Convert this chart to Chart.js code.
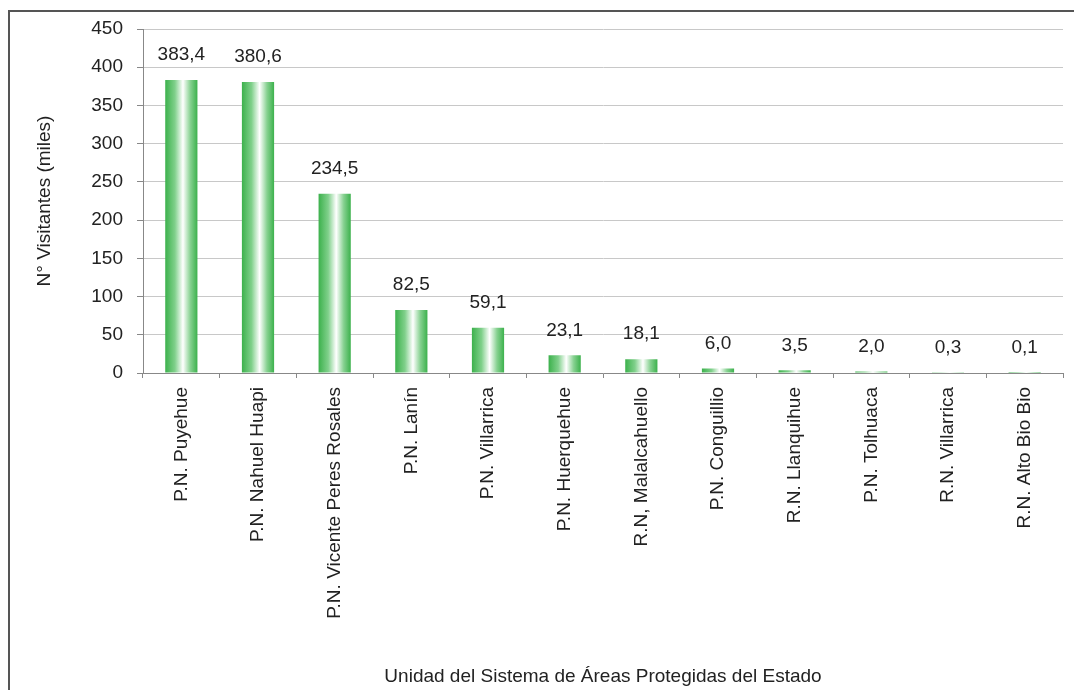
<!DOCTYPE html>
<html>
<head>
<meta charset="utf-8">
<script src="https://cdn.jsdelivr.net/npm/chart.js@4/dist/chart.umd.min.js"></script>
<style>
  body { margin: 0; background: #fff; }
  #frame { position: absolute; left: 8px; top: 10px; width: 1100px; height: 720px; border: 2px solid #555; box-sizing: border-box; }
  #myChart { position: absolute; left: 0; top: 0; }
</style>
</head>
<body>
<div id="frame"></div>
<canvas id="myChart" width="1074" height="690"></canvas>
<script>
const categories = [
  'P.N. Puyehue', 'P.N. Nahuel Huapi', 'P.N. Vicente Peres Rosales', 'P.N. Lanín',
  'P.N. Villarrica', 'P.N. Huerquehue', 'R.N, Malalcahuello', 'P.N. Conguillio',
  'R.N. Llanquihue', 'P.N. Tolhuaca', 'R.N. Villarrica', 'R.N. Alto Bio Bio'
]
const visitors = [383.4, 380.6, 234.5, 82.5, 59.1, 23.1, 18.1, 6.0, 3.5, 2.0, 0.3, 0.1]
const yTicks = [0, 50, 100, 150, 200, 250, 300, 350, 400, 450]

const FONT = "'Liberation Sans', Arial, sans-serif"
const FS = 19
const BAR_PCT = 0.42

// horizontal green -> white -> green shading on each bar
function barFill(ctx) {
  const chart = ctx.chart
  const x = chart.scales.x
  if (!chart.chartArea || !x) return '#3fb34f'
  const cx = x.getPixelForValue(ctx.dataIndex)
  const hw = x.width / categories.length * BAR_PCT / 2
  const g = chart.ctx.createLinearGradient(cx - hw, 0, cx + hw, 0)
  g.addColorStop(0, '#3cb14c')
  g.addColorStop(0.3, '#80d08b')
  g.addColorStop(0.55, '#ffffff')
  g.addColorStop(0.78, '#86d190')
  g.addColorStop(1, '#3cb14c')
  return g
}

const valueLabels = {
  id: 'valueLabels',
  afterDatasetsDraw(chart) {
    const c = chart.ctx
    c.save()
    c.font = FS + 'px ' + FONT
    c.fillStyle = '#222'
    c.textAlign = 'center'
    c.textBaseline = 'middle'
    chart.getDatasetMeta(0).data.forEach((bar, i) => {
      c.fillText(visitors[i].toFixed(1).replace('.', ','), bar.x, bar.y - 25)
    })
    c.restore()
  }
}

window.addEventListener('DOMContentLoaded', () => {
  const find = document.getElementById('myChart')
  new Chart(find, {
    type: 'bar',
    data: {
      labels: categories,
      datasets: [{
        data: visitors,
        backgroundColor: barFill,
        borderWidth: 0,
        categoryPercentage: 1,
        barPercentage: BAR_PCT
      }]
    },
    plugins: [valueLabels],
    options: {
      responsive: false,
      animation: false,
      devicePixelRatio: 1,
      layout: { padding: { left: 0, top: 29, right: 11, bottom: 0 } },
      plugins: { legend: { display: false }, tooltip: { enabled: false } },
      scales: {
        x: {
          afterFit: (s) => { s.height = 690 - 373 },
          grid: { drawOnChartArea: false, drawTicks: true, tickLength: 5, tickColor: '#888', offset: true },
          border: { color: '#888', width: 1 },
          ticks: {
            minRotation: 90, maxRotation: 90, autoSkip: false, padding: 9,
            color: '#222', font: { family: FONT, size: FS }
          },
          title: {
            display: true,
            text: 'Unidad del Sistema de Áreas Protegidas del Estado',
            color: '#222', font: { family: FONT, size: FS },
            padding: { top: 0, bottom: 2 }
          }
        },
        y: {
          min: 0, max: 450,
          afterFit: (s) => { s.width = 143 },
          afterBuildTicks: (s) => { s.ticks = yTicks.map(v => ({ value: v })) },
          grid: {
            color: '#c8c8c8', borderDash: [1, 2], tickLength: 6,
            tickColor: '#888', tickBorderDash: []
          },
          border: { color: '#888', width: 1 },
          ticks: { padding: 14, color: '#222', font: { family: FONT, size: FS } },
          title: {
            display: true,
            text: 'N° Visitantes (miles)',
            color: '#222', font: { family: FONT, size: FS },
            padding: { top: 33, bottom: 0 }
          }
        }
      }
    }
  })
})
</script>
</body>
</html>
